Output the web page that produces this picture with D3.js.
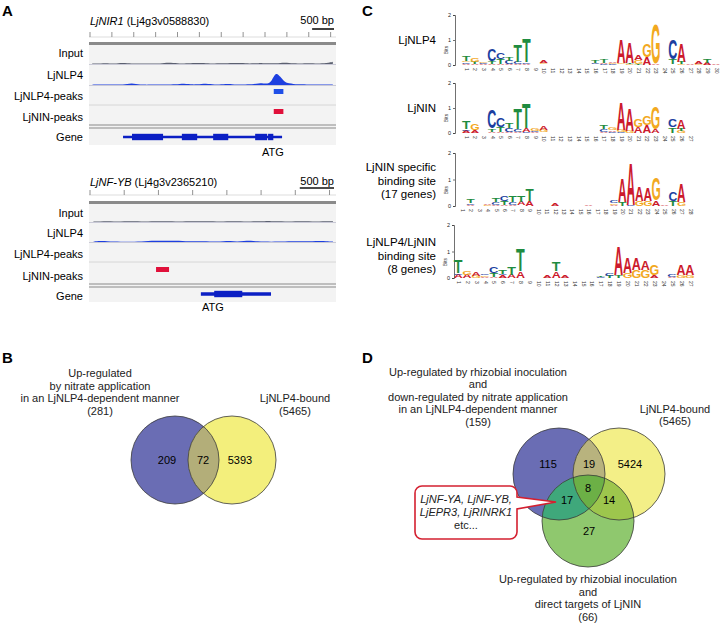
<!DOCTYPE html>
<html>
<head>
<meta charset="utf-8">
<script src="https://cdn.jsdelivr.net/npm/d3@7"></script>
<style>
  body { margin: 0; background: #fff; }
  svg { display: block; font-family: "Liberation Sans", Arial, sans-serif; }
</style>
</head>
<body>
<svg id="fig" width="720" height="625"></svg>
<script>
// ---------- data ----------
const trackLabels = ['Input', 'LjNLP4', 'LjNLP4-peaks', 'LjNIN-peaks', 'Gene'];

// LjNIR1 locus (bp, 100 bp bins)
const nir1Span     = 5600;
const nir1Input    = [3,3,3,4,3,3,5,6,4,3,3,3,3,3,3,3,4,7,8,5,3,3,4,6,6,5,4,3,3,4,4,4,5,6,5,4,3,4,5,5,4,4,4,6,7,6,4,3,3,4,4,3,3,4,6,12];
const nir1Nlp4     = [2,2,3,2,3,2,3,3,5,10,6,3,2,2,3,2,3,2,3,4,6,8,5,3,4,6,8,5,3,3,4,6,5,3,2,3,4,6,8,10,6,18,75,45,16,9,6,4,5,3,2,3,2,3,2,3];
const nir1NlpPeaks = [[4200, 4420]];
const nir1NinPeaks = [[4200, 4420]];
const nir1Gene     = [755, 4390];
const nir1Exons    = [[960, 1670], [2100, 2450], [2815, 3160], [3775, 4050], [4070, 4190]];
const nir1Atg      = 4183;

// LjNF-YB locus
const nfybSpan     = 3580;
const nfybInput    = [3,3,4,3,3,4,4,3,3,4,5,4,3,3,4,4,5,4,3,3,4,4,3,3,4,5,5,4,3,3,4,4,3,3,4,4];
const nfybNlp4     = [2,6,5,2,2,2,2,2,6,7,7,6,7,5,3,5,4,3,2,4,6,2,6,8,3,2,2,2,3,4,5,4,4,6,5,3];
const nfybNlpPeaks = [];
const nfybNinPeaks = [[965, 1155]];
const nfybGene     = [1620, 2645];
const nfybExons    = [[1815, 2225]];
const nfybAtg      = 1797;

// sequence logos: per position, letters bottom -> top with height in bits
const logoNLP4 = [
  [['A',.05],['C',.05],['G',.07],['T',.2]], [['A',.05],['T',.08],['G',.17]], [['A',.04],['C',.04],['G',.07]],
  [['A',.05],['T',.1],['C',.45]], [['A',.04],['T',.18],['C',.28]], [['A',.04],['C',.14],['T',.17]],
  [['A',.05],['C',.08],['T',.65]], [['A',.05],['C',.07],['T',.92]], [['A',.03],['G',.03]],
  [['C',.03],['G',.04],['A',.1]], [['A',.03],['G',.02]], [['A',.01]], [['A',.01]], [['A',.01]], [['A',.01]],
  [['A',.03],['C',.04],['T',.08]], [['C',.05],['A',.05],['T',.13]], [['C',.04],['G',.04],['A',.05]],
  [['C',.03],['G',.05],['A',.92]], [['G',.05],['T',.05],['A',.85]], [['T',.05],['G',.15],['A',.22]],
  [['A',.32],['G',.5]], [['A',.04],['G',1.55]], [['A',.03],['C',.03]],
  [['A',.03],['T',.2],['C',.8]], [['G',.04],['T',.1],['A',.72]], [['A',.05]],
  [['G',.04],['A',.1]], [['A',.08],['T',.15]], [['A',.05]]
];
const logoNIN = [
  [['A',.08],['C',.07],['T',.3]], [['A',.12],['G',.28]], [['A',.02]],
  [['A',.05],['T',.12],['C',.75]], [['A',.04],['T',.2],['C',.38]], [['A',.04],['C',.15],['T',.2]],
  [['A',.04],['C',.12],['T',.85]], [['C',.04],['A',.15],['T',1.0]], [['A',.04],['C',.05],['G',.1]],
  [['C',.03],['G',.08],['A',.15]], [['A',.03]], [['A',.01]], [['A',.01]], [['A',.01]], [['A',.01]],
  [['A',.03]], [['A',.05],['C',.1],['T',.15]], [['C',.05],['A',.05],['G',.08]],
  [['C',.04],['G',.08],['A',1.1]], [['G',.1],['A',.9]], [['A',.25],['G',.3]],
  [['A',.3],['G',.35]], [['A',.15],['G',.9]], [['A',.03]],
  [['T',.22],['C',.3]], [['G',.1],['T',.08],['A',.38]], [['A',.03]]
];
const logoNINspec = [
  [['A',.01]], [['A',.05],['C',.05],['T',.15]], [['A',.02]], [['G',.05],['A',.05]],
  [['A',.05],['C',.1],['T',.15]], [['A',.05],['T',.12],['C',.18]], [['A',.05],['C',.1],['T',.25]],
  [['G',.03],['A',.12],['T',.25]], [['A',.18],['T',.45]], [['A',.01]], [['A',.01]], [['A',.1]],
  [['A',.01]], [['A',.01]], [['A',.01]], [['A',.06]], [['A',.01]], [['A',.02]],
  [['A',.05],['G',.05],['C',.1]], [['T',.15],['A',.88]], [['C',.05],['A',1.55]],
  [['G',.18],['A',.52]], [['G',.18],['A',.5]], [['A',.2],['G',.85]], [['A',.05]],
  [['T',.2],['C',.32]], [['G',.15],['A',.7]], [['A',.02]]
];
const logoShared = [
  [['A',.12],['C',.05],['T',.5]], [['A',.12],['G',.15]], [['G',.08],['A',.15]],
  [['A',.05],['G',.05],['C',.05]], [['A',.05],['T',.15],['C',.25]], [['A',.1],['C',.05],['T',.15]],
  [['A',.12],['T',.3]], [['A',.25],['T',.85]], [['A',.01]], [['A',.01]], [['A',.08]],
  [['A',.25],['T',.35]], [['A',.08]], [['A',.01]], [['A',.02]], [['A',.02]],
  [['C',.05],['T',.05]], [['T',.08],['C',.1]], [['T',.1],['A',1.05]], [['G',.2],['A',.6]],
  [['G',.3],['A',.45]], [['G',.3],['A',.32]], [['A',.1],['G',.4]], [['A',.02]],
  [['A',.05],['C',.08]], [['G',.1],['A',.4]], [['G',.1],['A',.4]]
];
const logoLabels = [['LjNLP4'], ['LjNIN'], ['LjNIN specific', 'binding site', '(17 genes)'], ['LjNLP4/LjNIN', 'binding site', '(8 genes)']];

// Venn B
const vennBTitles = [['Up-regulated', 'by nitrate application', 'in an LjNLP4-dependent manner', '(281)'], ['LjNLP4-bound', '(5465)']];
const vennBCounts = [209, 72, 5393];

// Venn D: blue only, blue&yellow, yellow only, blue&green, all, yellow&green, green only
const vennDTitles = [
  ['Up-regulated by rhizobial inoculation', 'and', 'down-regulated by nitrate application', 'in an LjNLP4-dependent manner', '(159)'],
  ['LjNLP4-bound', '(5465)'],
  ['Up-regulated by rhizobial inoculation', 'and', 'direct targets of LjNIN', '(66)']
];
const vennDCounts = [115, 19, 5424, 17, 8, 14, 27];
const calloutGenes = ['LjNF-YA, LjNF-YB,', 'LjEPR3, LjRINRK1', 'etc...'];

// ---------- drawing ----------
const svg = d3.select('#fig');
const defs = svg.append('defs');

function panelLetter(t, x, y) {
  svg.append('text').attr('x', x).attr('y', y).attr('font-size', 15).attr('font-weight', 'bold').text(t);
}
panelLetter('A', 2, 16);
panelLetter('B', 2, 363);
panelLetter('C', 362, 16);
panelLetter('D', 362, 363);

// ----- panel A -----
function drawLocus(cfg) {
  const g = svg.append('g');
  const x = d3.scaleLinear().domain([0, cfg.span]).range([90, 335]);
  const ys = d3.scaleLinear().domain([0, 100]).range([0, 18]);

  g.append('rect').attr('x', 89).attr('y', cfg.thickY).attr('width', 247).attr('height', cfg.geneY + 8 - cfg.thickY).attr('fill', '#f3f3f3');

  const title = g.append('text').attr('x', 90).attr('y', cfg.titleY).attr('font-size', 11);
  title.append('tspan').attr('font-style', 'italic').text(cfg.name);
  title.append('tspan').text(' (' + cfg.locus + ')');
  g.append('text').attr('x', 334).attr('y', cfg.titleY - 1).attr('text-anchor', 'end').attr('font-size', 11).text('500 bp');
  g.append('line').attr('x1', 334 - (x(500) - x(0))).attr('x2', 334).attr('y1', cfg.barY).attr('y2', cfg.barY)
    .attr('stroke', '#111').attr('stroke-width', 1.6);

  // ruler
  g.append('line').attr('x1', 89).attr('x2', 336).attr('y1', cfg.rulerY).attr('y2', cfg.rulerY).attr('stroke', '#ddd');
  g.selectAll('line.tick').data(d3.range(0, cfg.span + 1, 500)).join('line').attr('class', 'tick')
    .attr('x1', d => x(d)).attr('x2', d => x(d)).attr('y1', cfg.rulerY - 5).attr('y2', cfg.rulerY)
    .attr('stroke', '#777').attr('stroke-width', 0.8);
  g.append('rect').attr('x', 89).attr('y', cfg.thickY - 1).attr('width', 247).attr('height', 3).attr('fill', '#8a8a8a');

  // row labels
  trackLabels.forEach((t, i) => {
    g.append('text').attr('x', 83).attr('y', cfg.labelY[i]).attr('text-anchor', 'end').attr('font-size', 11).text(t);
  });

  // signals
  const binW = 100;
  const sig = (vals, base, col) => {
    const area = d3.area().x((d, i) => x(i * binW + binW / 2)).y0(base).y1(d => base - ys(d)).curve(d3.curveBasis);
    g.append('line').attr('x1', 89).attr('x2', 336).attr('y1', base + 0.5).attr('y2', base + 0.5).attr('stroke', '#c9c9d6').attr('stroke-width', 1);
    g.append('path').attr('d', area(vals)).attr('fill', col);
  };
  sig(cfg.input, cfg.inputBase, '#5b6070');
  sig(cfg.nlp4, cfg.nlpBase, '#1d3fe0');

  g.append('line').attr('x1', 89).attr('x2', 336).attr('y1', cfg.divY).attr('y2', cfg.divY).attr('stroke', '#d6d6d6');
  g.selectAll('rect.np').data(cfg.nlpPeaks).join('rect').attr('class', 'np')
    .attr('x', d => x(d[0])).attr('width', d => x(d[1]) - x(d[0])).attr('y', cfg.nlpPeakY).attr('height', 5).attr('fill', '#1f4fe8');
  g.selectAll('rect.ni').data(cfg.ninPeaks).join('rect').attr('class', 'ni')
    .attr('x', d => x(d[0])).attr('width', d => x(d[1]) - x(d[0])).attr('y', cfg.ninPeakY).attr('height', 5).attr('fill', '#e0103a');

  // double line
  [0, 3].forEach(o => g.append('line').attr('x1', 89).attr('x2', 336).attr('y1', cfg.dblY + o).attr('y2', cfg.dblY + o)
    .attr('stroke', '#8a8a8a').attr('stroke-width', 1.2));
  g.append('rect').attr('x', 89).attr('y', cfg.dblY + 4).attr('width', 247).attr('height', cfg.geneY + 8 - cfg.dblY - 4).attr('fill', '#f3f3f3');

  // gene model
  g.append('line').attr('x1', x(cfg.gene[0])).attr('x2', x(cfg.gene[1])).attr('y1', cfg.geneY).attr('y2', cfg.geneY)
    .attr('stroke', '#0b1fc4').attr('stroke-width', cfg.thinW);
  g.selectAll('rect.ex').data(cfg.exons).join('rect').attr('class', 'ex')
    .attr('x', d => x(d[0])).attr('width', d => x(d[1]) - x(d[0])).attr('y', cfg.geneY - 3.2).attr('height', 6.4).attr('fill', '#0b1fc4');
  g.append('text').attr('x', x(cfg.atg)).attr('y', cfg.atgY).attr('text-anchor', 'middle').attr('font-size', 11).text('ATG');
}

drawLocus({
  name: 'LjNIR1', locus: 'Lj4g3v0588830', span: nir1Span, input: nir1Input, nlp4: nir1Nlp4,
  nlpPeaks: nir1NlpPeaks, ninPeaks: nir1NinPeaks, gene: nir1Gene, exons: nir1Exons, atg: nir1Atg,
  titleY: 25, barY: 29, rulerY: 37, thickY: 43, inputBase: 64, nlpBase: 85, divY: 105,
  nlpPeakY: 89, ninPeakY: 109, dblY: 125, geneY: 137, atgY: 156, thinW: 2.4,
  labelY: [57, 79, 100, 121, 141]
});
drawLocus({
  name: 'LjNF-YB', locus: 'Lj4g3v2365210', span: nfybSpan, input: nfybInput, nlp4: nfybNlp4,
  nlpPeaks: nfybNlpPeaks, ninPeaks: nfybNinPeaks, gene: nfybGene, exons: nfybExons, atg: nfybAtg,
  titleY: 186, barY: 188, rulerY: 195, thickY: 202, inputBase: 222, nlpBase: 242, divY: 262,
  nlpPeakY: 248, ninPeakY: 267, dblY: 284, geneY: 294, atgY: 311, thinW: 3.6,
  labelY: [217, 237, 258, 280, 300]
});

// ----- panel C: sequence logos -----
const letterColor = { A: '#cc1a2c', C: '#1c3fa0', G: '#f2a91f', T: '#1f8c40' };
const ctx = document.createElement('canvas').getContext('2d');
ctx.font = 'bold 100px "Liberation Sans"';
const glyph = {};
['A', 'C', 'G', 'T'].forEach(l => {
  const m = ctx.measureText(l);
  glyph[l] = { left: m.actualBoundingBoxLeft, w: m.actualBoundingBoxLeft + m.actualBoundingBoxRight,
    asc: m.actualBoundingBoxAscent, desc: m.actualBoundingBoxDescent };
});

function drawLogo(cols, labels, cfg) {
  const g = svg.append('g');
  const n = cols.length;
  const step = (cfg.lastX - cfg.firstX) / (n - 1);
  const xb = d3.scaleBand().domain(d3.range(1, n + 1)).range([cfg.firstX - step / 2, cfg.lastX + step / 2]).padding(0.04);
  const y = d3.scaleLinear().domain([0, 2]).range([cfg.base, cfg.top]);

  const ax = g.append('g').attr('transform', `translate(${cfg.axisX},0)`)
    .call(d3.axisLeft(y).tickValues([0, 1, 2]).tickFormat(d3.format('d')).tickSize(2).tickPadding(2));
  ax.select('.domain').attr('stroke', '#333').attr('stroke-width', 0.7);
  ax.selectAll('.tick line').attr('stroke', '#333').attr('stroke-width', 0.7);
  ax.selectAll('.tick text').attr('font-size', 5.5).attr('font-family', '"Liberation Sans", Arial, sans-serif').attr('fill', '#222');
  g.append('text').attr('transform', `translate(${cfg.axisX - 7},${y(0.6)}) rotate(-90)`).attr('text-anchor', 'middle')
    .attr('font-size', 5).attr('fill', '#333').text('Bits');

  cols.forEach((stack, i) => {
    let acc = 0;
    const x0 = xb(i + 1), w = xb.bandwidth();
    stack.forEach(([l, h]) => {
      const yb = y(acc), ph = y(0) - y(h);
      acc += h;
      if (ph < 1) return;
      const gm = glyph[l];
      g.append('text').attr('font-size', 100).attr('font-weight', 'bold').attr('fill', letterColor[l])
        .attr('transform', `translate(${x0},${yb}) scale(${w / gm.w},${ph / (gm.asc + gm.desc)}) translate(${gm.left},${-gm.desc})`)
        .text(l);
    });
    g.append('text').attr('transform', `translate(${x0 + w / 2},${cfg.base + 3}) rotate(90)`)
      .attr('font-size', 5).attr('dominant-baseline', 'middle').attr('fill', '#333').text(i + 1);
  });

  labels.forEach((t, j) => {
    g.append('text').attr('x', cfg.labelX).attr('y', cfg.labelY + j * 13.5).attr('text-anchor', 'end').attr('font-size', 11.5).text(t);
  });
}

drawLogo(logoNLP4, logoLabels[0], { firstX: 466, lastX: 716, top: 15, base: 65, axisX: 455, labelX: 436, labelY: 44 });
drawLogo(logoNIN, logoLabels[1], { firstX: 466, lastX: 690, top: 83, base: 133, axisX: 455, labelX: 436, labelY: 112 });
drawLogo(logoNINspec, logoLabels[2], { firstX: 462, lastX: 690, top: 153, base: 206, axisX: 455, labelX: 436, labelY: 171 });
drawLogo(logoShared, logoLabels[3], { firstX: 458, lastX: 690, top: 225, base: 278, axisX: 454, labelX: 436, labelY: 246 });

// ----- Venn helpers -----
let clipN = 0;
function clipFor(c) {
  const id = 'clip' + (clipN++);
  defs.append('clipPath').attr('id', id).append('circle').attr('cx', c.cx).attr('cy', c.cy).attr('r', c.r);
  return `url(#${id})`;
}
function circle(sel, c, fill) {
  return sel.append('circle').attr('cx', c.cx).attr('cy', c.cy).attr('r', c.r).attr('fill', fill);
}
function textLines(lines, cx, y0, dy, opts = {}) {
  lines.forEach((t, i) => {
    svg.append('text').attr('x', cx).attr('y', y0 + i * dy).attr('text-anchor', 'middle').attr('font-size', 11)
      .attr('font-style', opts.italic && opts.italic(i) ? 'italic' : null).attr('fill', '#222').text(t);
  });
}

// ----- panel B -----
{
  const cb = { cx: 175, cy: 460, r: 44 }, cy = { cx: 232, cy: 460, r: 44 };
  const g = svg.append('g');
  circle(g, cb, '#6a6db4');
  circle(g, cy, '#f3ef7c');
  circle(g.append('g').attr('clip-path', clipFor(cb)), cy, '#b3ae79');
  [cb, cy].forEach(c => circle(g, c, 'none').attr('stroke', '#3a3a3a').attr('stroke-width', 0.8));
  const nx = [167, 203, 240];
  vennBCounts.forEach((v, i) => g.append('text').attr('x', nx[i]).attr('y', 464).attr('text-anchor', 'middle').attr('font-size', 11).text(v));
  textLines(vennBTitles[0], 100, 377, 12.6);
  textLines(vennBTitles[1], 295, 402, 12.6);
}

// ----- panel D -----
{
  const cb = { cx: 559, cy: 474, r: 46 }, cyl = { cx: 619, cy: 474, r: 46 }, cg = { cx: 588, cy: 521, r: 46 };
  const g = svg.append('g');
  circle(g, cb, '#6a6db4');
  circle(g, cyl, '#f3ef87');
  circle(g, cg, '#8fc86e');
  const clipB = clipFor(cb), clipY = clipFor(cyl), clipY2 = clipFor(cyl);
  circle(g.append('g').attr('clip-path', clipB), cyl, '#b8b37e');
  circle(g.append('g').attr('clip-path', clipB), cg, '#3fa87b');
  circle(g.append('g').attr('clip-path', clipY), cg, '#9dc64d');
  circle(g.append('g').attr('clip-path', clipFor(cb)).append('g').attr('clip-path', clipY2), cg, '#6cb046');
  [cb, cyl, cg].forEach(c => circle(g, c, 'none').attr('stroke', '#3a3a3a').attr('stroke-width', 0.8));

  const pos = [[548, 468], [589, 468], [630, 468], [567, 504], [588, 492], [609, 504], [589, 535]];
  vennDCounts.forEach((v, i) => g.append('text').attr('x', pos[i][0]).attr('y', pos[i][1]).attr('text-anchor', 'middle').attr('font-size', 11).text(v));

  textLines(vennDTitles[0], 478, 376, 12.4);
  textLines(vennDTitles[1], 675, 413, 12.4);
  textLines(vennDTitles[2], 588, 583, 12.6);

  // callout
  const p = d3.path();
  const x0 = 415, x1 = 517, y0 = 486, y1 = 539, r = 7;
  p.moveTo(x0 + r, y0);
  p.lineTo(x1 - r, y0); p.arcTo(x1, y0, x1, y0 + r, r);
  p.lineTo(x1, 497); p.lineTo(556, 502); p.lineTo(x1, 509);
  p.lineTo(x1, y1 - r); p.arcTo(x1, y1, x1 - r, y1, r);
  p.lineTo(x0 + r, y1); p.arcTo(x0, y1, x0, y1 - r, r);
  p.lineTo(x0, y0 + r); p.arcTo(x0, y0, x0 + r, y0, r);
  p.closePath();
  svg.append('path').attr('d', p.toString()).attr('fill', '#fff').attr('stroke', '#d42030').attr('stroke-width', 1.6);
  textLines(calloutGenes, 466, 503, 13, { italic: i => i < 2 });
}
</script>
</body>
</html>
